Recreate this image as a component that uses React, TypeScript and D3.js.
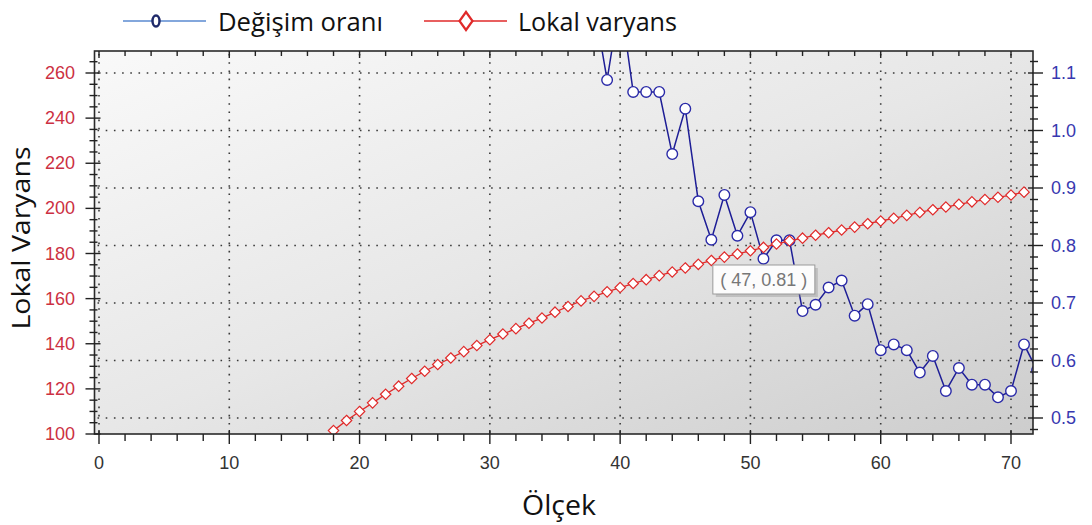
import React from "react";
import * as d3 from "d3";

// ---- data ----
const redX = [18,19,20,21,22,23,24,25,26,27,28,29,30,31,32,33,34,35,36,37,38,39,40,41,42,43,44,45,46,47,48,49,50,51,52,53,54,55,56,57,58,59,60,61,62,63,64,65,66,67,68,69,70,71];
const redY = [101.5,106,110,113.8,117.6,121.2,124.6,127.8,130.8,133.7,136.5,139.2,141.8,144.3,146.7,149.1,151.4,154.0,156.5,159.0,161.0,163.0,164.9,166.7,168.4,170.2,171.8,173.6,175.2,176.9,178.4,179.8,181.2,182.7,184.2,185.6,186.8,188.1,189.2,190.4,191.7,193.2,194.4,195.6,196.9,198.2,199.4,200.6,201.8,202.9,203.9,204.9,205.9,207.2];
const blueX = [38,39,40,41,42,43,44,45,46,47,48,49,50,51,52,53,54,55,56,57,58,59,60,61,62,63,64,65,66,67,68,69,70,71,72];
const blueY = [1.22,1.088,1.23,1.067,1.067,1.067,0.959,1.038,0.877,0.81,0.888,0.817,0.858,0.777,0.809,0.809,0.686,0.697,0.727,0.739,0.678,0.698,0.618,0.628,0.618,0.579,0.608,0.547,0.587,0.558,0.558,0.536,0.547,0.628,0.583];
const xTicks = [0,10,20,30,40,50,60,70];
const leftTicks = [100,120,140,160,180,200,220,240,260];
const rightTicks = [0.5,0.6,0.7,0.8,0.9,1.0,1.1];
const legendLabels = ["Değişim oranı", "Lokal varyans"];
const yTitle = "Lokal Varyans";
const xTitle = "Ölçek";
const tooltipPoint = [47, 0.81];

// ---- layout ----
const W = 1092, H = 525;
const PL = 94.5, PR = 1033, PT = 51, PB = 434;

const x = d3.scaleLinear().domain([0, 70]).range([99, 1011]);
const yL = d3.scaleLinear().domain([100, 260]).range([434, 73]);
const yR = d3.scaleLinear().domain([0.5, 1.1]).range([418, 73]);

const NUM_FONT = "'Liberation Sans', Arial, sans-serif";
const TXT_FONT = "'Open Sans', 'Noto Sans', sans-serif";
const RED = "#e02a2a";
const NAVY = "#1e1e96";

function range(a: number, b: number, s: number) {
  const out: number[] = [];
  for (let v = a; v <= b + 1e-9; v += s) out.push(+v.toFixed(4));
  return out;
}

export default function App() {
  const xMinor = range(0, 71, 2).filter((v) => v % 10 !== 0);
  const lMinor = range(100, 265, 5).filter((v) => v % 20 !== 0);
  const rMinor = range(0.48, 1.12, 0.02).filter((v) => Math.abs(v * 10 - Math.round(v * 10)) > 1e-6);

  const redLine = d3.line<number>().x((_, i) => x(redX[i])).y((d) => yL(d));
  const blueLine = d3.line<number>().x((_, i) => x(blueX[i])).y((d) => yR(d));

  const diamond = (cx: number, cy: number, r: number) =>
    `M${cx},${cy - r}L${cx + r},${cy}L${cx},${cy + r}L${cx - r},${cy}Z`;

  const tipL = x(tooltipPoint[0]) + 1.5;
  const tipY = 265;

  return (
    <svg width={W} height={H} style={{ position: "absolute", left: 0, top: 0, background: "#fff" }}>
      <defs>
        <linearGradient id="bg" x1="0" y1="0" x2="1" y2="1">
          <stop offset="0" stopColor="#f9f9f9" />
          <stop offset="0.5" stopColor="#e7e7e7" />
          <stop offset="1" stopColor="#cdcdcd" />
        </linearGradient>
        <clipPath id="clip">
          <rect x={PL} y={PT} width={PR - PL} height={PB - PT} />
        </clipPath>
      </defs>

      {/* legend */}
      <g>
        <line x1={123} x2={206} y1={21} y2={21} stroke="#5a8ad0" strokeWidth={1.5} />
        <ellipse cx={156} cy={21} rx={3.5} ry={5.5} fill="#fff" stroke="#1f2a6a" strokeWidth={2.5} />
        <text x={218} y={31} fontFamily={TXT_FONT} fontSize={26} fill="#111" textLength={165} lengthAdjust="spacingAndGlyphs">{legendLabels[0]}</text>
        <line x1={424} x2={507} y1={21} y2={21} stroke={RED} strokeWidth={1.5} />
        <path d="M466,12L472.5,21L466,30L459.5,21Z" fill="#fff" stroke={RED} strokeWidth={2.2} />
        <text x={518} y={31} fontFamily={TXT_FONT} fontSize={26} fill="#111" textLength={159} lengthAdjust="spacingAndGlyphs">{legendLabels[1]}</text>
      </g>

      {/* plot background */}
      <rect x={PL} y={PT} width={PR - PL} height={PB - PT} fill="url(#bg)" />

      {/* grid */}
      <g stroke="#3a3a3a" strokeWidth={1.6} strokeDasharray="1.6 6.6">
        {xTicks.map((t) => (
          <line key={"gx" + t} x1={x(t)} x2={x(t)} y1={PT + 3} y2={PB} />
        ))}
        {rightTicks.map((t) => (
          <line key={"gy" + t} x1={PL + 3} x2={PR} y1={yR(t)} y2={yR(t)} />
        ))}
      </g>

      {/* series */}
      <g clipPath="url(#clip)">
        <path d={blueLine(blueY) || ""} fill="none" stroke={NAVY} strokeWidth={1.5} />
        {blueY.map((v, i) => (
          <circle key={"b" + i} cx={x(blueX[i])} cy={yR(v)} r={5.3} fill="#fff" stroke="#2a2aa8" strokeWidth={1.4} />
        ))}
        <path d={redLine(redY) || ""} fill="none" stroke={RED} strokeWidth={1.3} />
        {redY.map((v, i) => (
          <path key={"r" + i} d={diamond(x(redX[i]), yL(v), 5.2)} fill="#fff" stroke={RED} strokeWidth={1.2} />
        ))}
      </g>

      {/* frame */}
      <rect x={PL} y={PT} width={PR - PL} height={PB - PT} fill="none" stroke="#2a2a2a" strokeWidth={1.6} />

      {/* bottom & top ticks */}
      <g stroke="#222" strokeWidth={1.4}>
        {xTicks.map((t) => (
          <g key={"xt" + t}>
            <line x1={x(t)} x2={x(t)} y1={PB - 4} y2={PB + 10} />
            <line x1={x(t)} x2={x(t)} y1={PT} y2={PT + 7} />
          </g>
        ))}
        {xMinor.map((t) => (
          <g key={"xm" + t}>
            <line x1={x(t)} x2={x(t)} y1={PB} y2={PB + 7} />
            <line x1={x(t)} x2={x(t)} y1={PT} y2={PT + 5} />
          </g>
        ))}
        {leftTicks.map((t) => (
          <line key={"lt" + t} x1={PL - 9} x2={PL + 6} y1={yL(t)} y2={yL(t)} />
        ))}
        {lMinor.map((t) => (
          <line key={"lm" + t} x1={PL - 5} x2={PL + 3} y1={yL(t)} y2={yL(t)} />
        ))}
        {rightTicks.map((t) => (
          <line key={"rt" + t} x1={PR - 5} x2={PR + 10} y1={yR(t)} y2={yR(t)} />
        ))}
        {rMinor.map((t) => (
          <line key={"rm" + t} x1={PR - 3} x2={PR + 5} y1={yR(t)} y2={yR(t)} />
        ))}
      </g>

      {/* tick labels */}
      <g fontFamily={NUM_FONT} fontSize={18}>
        {xTicks.map((t) => (
          <text key={"xl" + t} x={x(t)} y={469} textAnchor="middle" fill="#333">{t}</text>
        ))}
        {leftTicks.map((t) => (
          <text key={"ll" + t} x={75} y={yL(t) + 6} textAnchor="end" fill="#cc3042">{t}</text>
        ))}
        {rightTicks.map((t) => (
          <text key={"rl" + t} x={1051} y={yR(t) + 6} textAnchor="start" fill="#3838b0">{t.toFixed(1)}</text>
        ))}
      </g>

      {/* axis titles */}
      <text transform="translate(30,238) rotate(-90)" textAnchor="middle" fontFamily={TXT_FONT} fontSize={26} fill="#111" textLength={183} lengthAdjust="spacingAndGlyphs">{yTitle}</text>
      <text x={559} y={515} textAnchor="middle" fontFamily={TXT_FONT} fontSize={28} fill="#111" textLength={74} lengthAdjust="spacingAndGlyphs">{xTitle}</text>

      {/* tooltip */}
      <g>
        <rect x={tipL + 3} y={tipY + 3} width={102} height={29} fill="#888" opacity={0.35} />
        <rect x={tipL} y={tipY} width={102} height={29} fill="#fcfcfc" stroke="#9a9a9a" strokeWidth={1} />
        <text x={tipL + 51} y={tipY + 21} textAnchor="middle" fontFamily={NUM_FONT} fontSize={18} fill="#777">
          {`( ${tooltipPoint[0]}, ${tooltipPoint[1].toFixed(2)} )`}
        </text>
      </g>
    </svg>
  );
}
